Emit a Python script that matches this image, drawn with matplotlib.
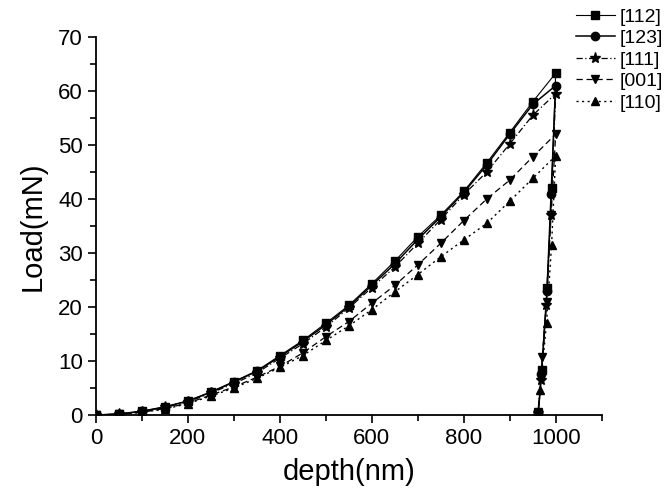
import numpy as np
import matplotlib.pyplot as plt
from matplotlib.ticker import MultipleLocator

plt.rcParams['font.family'] = ['Liberation Sans', 'DejaVu Sans']

# loading part, every 50 nm
depth_load = [0, 50, 100, 150, 200, 250, 300, 350, 400, 450, 500,
              550, 600, 650, 700, 750, 800, 850, 900, 950, 1000]

load_112 = [0, 0.2, 0.7, 1.5, 2.6, 4.3, 6.2, 8.2, 11.0, 13.8, 17.0,
            20.3, 24.3, 28.5, 33.0, 37.0, 41.4, 46.7, 52.3, 58.0, 63.3]
load_123 = [0, 0.2, 0.7, 1.5, 2.6, 4.2, 6.1, 8.1, 10.8, 13.6, 16.7,
            20.1, 24.0, 28.0, 32.5, 36.7, 41.2, 46.3, 52.0, 57.5, 61.0]
load_111 = [0, 0.15, 0.6, 1.4, 2.4, 4.1, 5.8, 7.8, 10.5, 13.2, 16.3,
            19.8, 23.6, 27.4, 31.8, 36.2, 40.8, 45.0, 50.2, 55.5, 59.5]
load_001 = [0, 0.1, 0.5, 1.2, 2.2, 3.7, 5.2, 7.0, 9.0, 11.5, 14.5,
            17.3, 20.7, 24.0, 27.8, 31.8, 36.0, 40.0, 43.5, 47.8, 52.0]
load_110 = [0, 0.1, 0.5, 1.1, 2.1, 3.5, 5.0, 6.8, 8.8, 11.0, 13.8,
            16.5, 19.5, 22.8, 26.0, 29.3, 32.4, 35.5, 39.6, 43.8, 48.0]

# unloading part
unload_d_112 = [1000, 991, 982, 970, 962]
unload_l_112 = [63.3, 42.0, 23.5, 8.3, 0.3]
unload_d_123 = [1000, 990, 981, 969, 962]
unload_l_123 = [61.0, 41.0, 23.0, 7.5, 0.3]
unload_d_111 = [1000, 989, 979, 968, 961]
unload_l_111 = [59.5, 37.0, 20.4, 6.5, 0.3]
unload_d_001 = [1000, 990, 980, 971, 962]
unload_l_001 = [52.0, 37.0, 21.0, 10.7, 0.5]
unload_d_110 = [1000, 991, 980, 966, 962]
unload_l_110 = [48.0, 31.5, 17.0, 4.6, 0.3]

labels = ['[112]', '[123]', '[111]', '[001]', '[110]']

series = [
    (load_112, unload_d_112, unload_l_112, 's', '-', 0.8),
    (load_123, unload_d_123, unload_l_123, 'o', '-', 1.1),
    (load_111, unload_d_111, unload_l_111, '*', (0, (5, 2, 1, 2)), 0.9),
    (load_001, unload_d_001, unload_l_001, 'v', (0, (5, 3)), 0.9),
    (load_110, unload_d_110, unload_l_110, '^', (0, (1.5, 2.5)), 1.0),
]

fig = plt.figure(figsize=(6.68, 4.97), dpi=100)
ax = fig.add_axes([0.1437, 0.165, 0.757, 0.7606])

handles = []
for (ld, ud, ul, mk, ls, lw), lab in zip(series, labels):
    d = depth_load + ud[1:]
    l = ld + ul[1:]
    ms = 8 if mk == '*' else 6
    h, = ax.plot(d, l, color='black', linestyle=ls, linewidth=lw,
                 marker=mk, markersize=ms, markerfacecolor='black',
                 markeredgecolor='black', label=lab)
    handles.append(h)

ax.set_xlim(0, 1100)
ax.set_ylim(0, 70)
ax.xaxis.set_major_locator(MultipleLocator(200))
ax.xaxis.set_minor_locator(MultipleLocator(100))
ax.yaxis.set_major_locator(MultipleLocator(10))
ax.yaxis.set_minor_locator(MultipleLocator(5))
ax.spines['top'].set_visible(False)
ax.spines['right'].set_visible(False)
for s in ['left', 'bottom']:
    ax.spines[s].set_linewidth(1.3)
ax.tick_params(which='major', direction='out', length=6, width=1.2,
               labelsize=16)
ax.tick_params(which='minor', direction='out', length=4, width=1.2)

ax.set_xlabel('depth(nm)', fontsize=21, labelpad=6)
ax.set_ylabel('Load(mN)', fontsize=21, labelpad=8)

fig.legend(handles=handles, labels=labels, loc='upper left',
           bbox_to_anchor=(0.862, 0.984), frameon=False, fontsize=14,
           handlelength=2.0, handletextpad=0.25, labelspacing=0.2,
           borderaxespad=0.0, borderpad=0.0)

fig.savefig('out.png', dpi=100)
